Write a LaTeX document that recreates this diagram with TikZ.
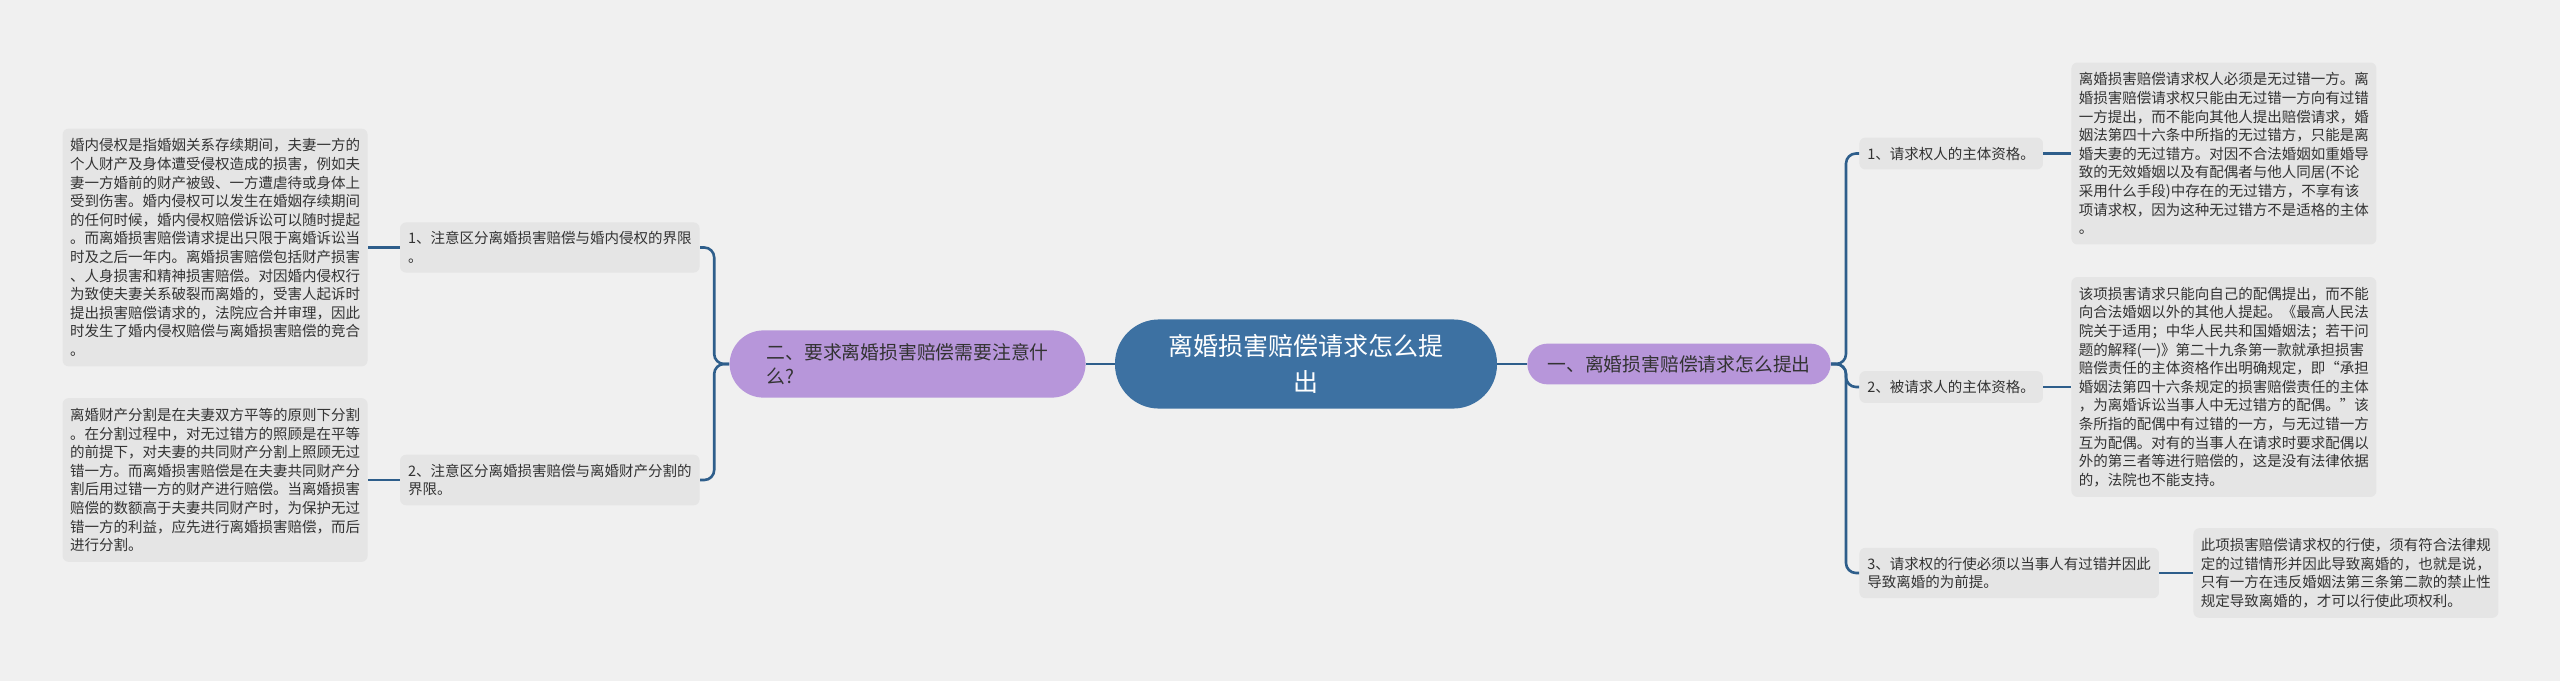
\documentclass[tikz,border=0pt]{standalone}
\usepackage{fontspec}
\setmainfont{Noto Sans CJK SC}
\definecolor{bgcol}{RGB}{240,240,240}
\definecolor{boxgray}{RGB}{229,229,229}
\definecolor{txtgray}{RGB}{51,51,51}
\definecolor{linkblue}{RGB}{46,94,139}
\definecolor{rootblue}{RGB}{61,113,162}
\definecolor{pillpurple}{RGB}{183,150,218}

\begin{document}
\begin{tikzpicture}[x=0.5pt,y=-0.5pt,text=txtgray,
  font=\fontsize{7.25pt}{9.3pt}\selectfont,
  link/.style={draw=linkblue,line width=1.3pt,rounded corners=5pt},
  leafbox/.style={fill=boxgray,rounded corners=3pt,align=left,inner xsep=3.75pt,inner ysep=5pt},
  itembox/.style={fill=boxgray,rounded corners=3pt,align=left,inner xsep=4pt,inner ysep=4.6pt},
  branchpill/.style={fill=pillpurple,align=left,font=\fontsize{9.4pt}{12pt}\selectfont},
  rootnode/.style={fill=rootblue,text=white,rounded corners=22pt,align=center,
    font=\fontsize{12.5pt}{18pt}\selectfont,inner xsep=26.75pt,inner ysep=7.5pt}]
  \fill[bgcol] (0,0) rectangle (2560,681);
  \node[rootnode] (root) at (1306,364) {离婚损害赔偿请求怎么提\\出};
  \node[branchpill,anchor=west,rounded corners=10pt,inner xsep=10pt,inner ysep=5.8pt] (rp) at (1527,364)
    {一、离婚损害赔偿请求怎么提出};
  \node[branchpill,anchor=east,rounded corners=17pt,inner xsep=18.5pt,inner ysep=6.5pt] (lp) at (1086,364)
    {二、要求离婚损害赔偿需要注意什\\么?};
  \node[itembox,anchor=west] (r1) at (1859,153.5) {1、请求权人的主体资格。};
  \node[itembox,anchor=west] (r2) at (1859,387) {2、被请求人的主体资格。};
  \node[itembox,anchor=west] (r3) at (1859,573) {3、请求权的行使必须以当事人有过错并因此\\导致离婚的为前提。};
  \node[itembox,anchor=east] (l1) at (700,247.5) {1、注意区分离婚损害赔偿与婚内侵权的界限\\。};
  \node[itembox,anchor=east] (l2) at (700,480) {2、注意区分离婚损害赔偿与离婚财产分割的\\界限。};
  \node[leafbox,anchor=west] (r1t) at (2071,153.5) {离婚损害赔偿请求权人必须是无过错一方。离\\
    婚损害赔偿请求权只能由无过错一方向有过错\\一方提出，而不能向其他人提出赔偿请求，婚\\
    姻法第四十六条中所指的无过错方，只能是离\\婚夫妻的无过错方。对因不合法婚姻如重婚导\\
    致的无效婚姻以及有配偶者与他人同居(不论\\采用什么手段)中存在的无过错方，不享有该\\
    项请求权，因为这种无过错方不是适格的主体\\。};
  \node[leafbox,anchor=west] (r2t) at (2071,387) {该项损害请求只能向自己的配偶提出，而不能\\
    向合法婚姻以外的其他人提起。《最高人民法\\院关于适用；中华人民共和国婚姻法；若干问\\
    题的解释(一)》第二十九条第一款就承担损害\\赔偿责任的主体资格作出明确规定，即“承担\\
    婚姻法第四十六条规定的损害赔偿责任的主体\\，为离婚诉讼当事人中无过错方的配偶。”该\\
    条所指的配偶中有过错的一方，与无过错一方\\互为配偶。对有的当事人在请求时要求配偶以\\
    外的第三者等进行赔偿的，这是没有法律依据\\的，法院也不能支持。};
  \node[leafbox,anchor=west] (r3t) at (2193,573) {此项损害赔偿请求权的行使，须有符合法律规\\
    定的过错情形并因此导致离婚的，也就是说，\\只有一方在违反婚姻法第三条第二款的禁止性\\
    规定导致离婚的，才可以行使此项权利。};
  \node[leafbox,anchor=east] (l1t) at (368,247.5) {婚内侵权是指婚姻关系存续期间，夫妻一方的\\
    个人财产及身体遭受侵权造成的损害，例如夫\\妻一方婚前的财产被毁、一方遭虐待或身体上\\
    受到伤害。婚内侵权可以发生在婚姻存续期间\\的任何时候，婚内侵权赔偿诉讼可以随时提起\\
    。而离婚损害赔偿请求提出只限于离婚诉讼当\\时及之后一年内。离婚损害赔偿包括财产损害\\
    、人身损害和精神损害赔偿。对因婚内侵权行\\为致使夫妻关系破裂而离婚的，受害人起诉时\\
    提出损害赔偿请求的，法院应合并审理，因此\\时发生了婚内侵权赔偿与离婚损害赔偿的竞合\\。};
  \node[leafbox,anchor=east] (l2t) at (368,480) {离婚财产分割是在夫妻双方平等的原则下分割\\
    。在分割过程中，对无过错方的照顾是在平等\\的前提下，对夫妻的共同财产分割上照顾无过\\
    错一方。而离婚损害赔偿是在夫妻共同财产分\\割后用过错一方的财产进行赔偿。当离婚损害\\
    赔偿的数额高于夫妻共同财产时，为保护无过\\错一方的利益，应先进行离婚损害赔偿，而后\\
    进行分割。};
  \draw[link] (root.east) -- (rp.west);
  \draw[link] (root.west) -- (lp.east);
  \draw[link] (rp.east) -- ++(15,0) |- (r1.west);
  \draw[link] (rp.east) -- ++(15,0) |- (r2.west);
  \draw[link] (rp.east) -- ++(15,0) |- (r3.west);
  \draw[link] (lp.west) -- ++(-15,0) |- (l1.east);
  \draw[link] (lp.west) -- ++(-15,0) |- (l2.east);
  \draw[link] (r1.east) -- (r1t.west);
  \draw[link] (r2.east) -- (r2t.west);
  \draw[link] (r3.east) -- (r3t.west);
  \draw[link] (l1.west) -- (l1t.east);
  \draw[link] (l2.west) -- (l2t.east);
\end{tikzpicture}
\end{document}
